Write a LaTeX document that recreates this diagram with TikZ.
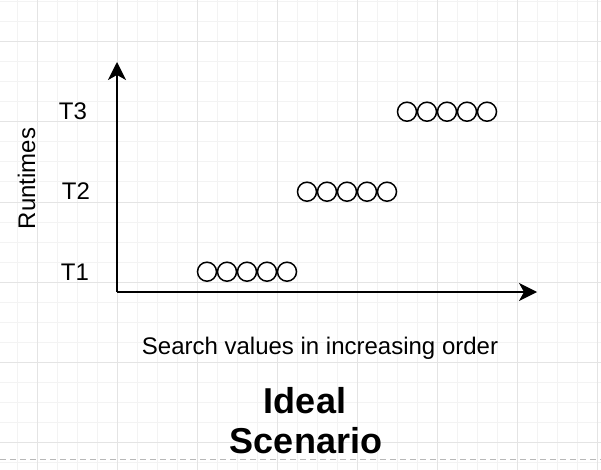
\documentclass[tikz,border=0pt]{standalone}
\usepackage{fontspec}
\setmainfont{Liberation Sans}
\usetikzlibrary{arrows.meta}
\definecolor{gridminor}{HTML}{F3F3F3}
\definecolor{gridmajor}{HTML}{E4E4E4}
\definecolor{pageline}{HTML}{B8B8B8}
\begin{document}
\begin{tikzpicture}[x=1pt, y=-1pt, >={Stealth[length=18pt,width=18pt,inset=5pt]},
    ball/.style={circle, draw, line width=1.5pt, minimum size=19pt, inner sep=0pt},
    lbl/.style={font=\fontsize{24}{28}\selectfont, anchor=base, inner sep=0pt},
    title/.style={font=\fontsize{36}{40}\selectfont\bfseries, anchor=base, inner sep=0pt}]
    \useasboundingbox (0,0) rectangle (601,470);
    % background grid
    \foreach \x in {17,37,...,597} \draw[gridminor, line width=1pt] (\x,0) -- (\x,470);
    \foreach \y in {2,22,...,462} \draw[gridminor, line width=1pt] (0,\y) -- (601,\y);
    \foreach \x in {37,117,...,597} \draw[gridmajor, line width=1pt] (\x,0) -- (\x,470);
    \foreach \y in {42,122,...,442} \draw[gridmajor, line width=1pt] (0,\y) -- (601,\y);
    \draw[pageline, line width=1pt, dash pattern=on 6pt off 4pt] (0,459) -- (601,459);
    % axes
    \coordinate (origin) at (117,292);
    \coordinate (ytop) at (117,62);
    \coordinate (xend) at (537,292);
    \draw[->, line width=2pt] (origin) -- (ytop);
    \draw[->, line width=2pt] (origin) -- (xend);
    % runtime rows
    \foreach \i in {0,...,4} {
        \node[ball] (low\i) at (207+20*\i,271.7) {};
        \node[ball] (mid\i) at (307+20*\i,191.7) {};
        \node[ball] (high\i) at (407+20*\i,111.7) {};
    }
    \node[lbl] (t1) at (75,280) {T1};
    \node[lbl] (t2) at (76,200) {T2};
    \node[lbl] (t3) at (73,120) {T3};
    \node[lbl, rotate=90] (runtimes) at (35,178.5) {Runtimes};
    \node[lbl] (search) at (320,354) {Search values in increasing order};
    \node[title] (ideal) at (305,413) {Ideal};
    \node[title] (scenario) at (306,453) {Scenario};
\end{tikzpicture}
\end{document}
